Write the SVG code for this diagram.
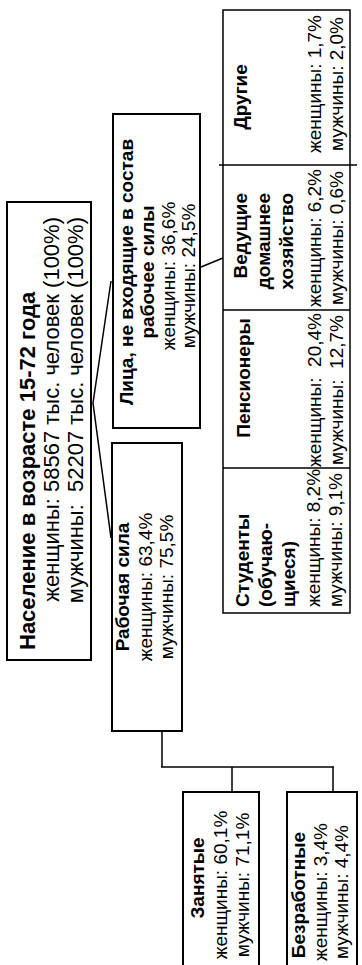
<svg xmlns="http://www.w3.org/2000/svg" width="362" height="965" viewBox="0 0 362 965">
<style>
.box{fill:#fff;stroke:#000;stroke-width:2}
.cell{fill:none;stroke:#000;stroke-width:1.5}
.con{fill:none;stroke:#000;stroke-width:1.5}
text{font-family:"Liberation Sans",Arial,sans-serif;font-size:19px;fill:#000}
.b{font-weight:bold}
.big{font-size:22px}
.s{text-anchor:start}
.m{text-anchor:middle}
.e{text-anchor:end}
</style>
<rect width="362" height="965" fill="#fff"/>
<g id="connectors">
<polyline class="con" points="111,281 93,403 111,538"/>
<line class="con" x1="201" y1="267" x2="223" y2="258"/>
<path class="con" d="M162,731 V767 M161,767 H334 M232,767 V792 M333,767 V792"/>
</g>
<g id="n-population">
<rect class="box" x="7" y="202" width="84" height="458"/>
<text class="b big s" transform="translate(35,650) rotate(-90)">Население в возрасте 15-72 года</text>
<text class="big e" transform="translate(59,217) rotate(-90)">женщины: 58567 тыс. человек (100%)</text>
<text class="big e" xml:space="preserve" transform="translate(83,217) rotate(-90)">мужчины:  52207 тыс. человек (100%)</text>
</g>
<g id="n-labour">
<rect class="box" x="112" y="443" width="70" height="288"/>
<text class="b m" transform="translate(129,587) rotate(-90)">Рабочая сила</text>
<text class="m" transform="translate(152,587) rotate(-90)">женщины: 63,4%</text>
<text class="m" transform="translate(173,587) rotate(-90)">мужчины: 75,5%</text>
</g>
<g id="n-outside">
<rect class="box" x="113" y="114" width="87" height="314"/>
<text class="b m" transform="translate(133,272) rotate(-90)">Лица, не входящие в состав</text>
<text class="b m" transform="translate(154,272) rotate(-90)">рабочее силы</text>
<text class="m" transform="translate(175,276) rotate(-90)">женщины: 36,6%</text>
<text class="m" transform="translate(195,276) rotate(-90)">мужчины: 24,5%</text>
</g>
<g id="n-employed">
<rect class="box" x="183" y="792" width="76" height="190"/>
<text class="b m" transform="translate(204,878) rotate(-90)">Занятые</text>
<text class="m" transform="translate(227,885) rotate(-90)">женщины: 60,1%</text>
<text class="m" transform="translate(249,885) rotate(-90)">мужчины: 71,1%</text>
</g>
<g id="n-unemployed">
<rect class="box" x="287" y="792" width="70" height="190"/>
<text class="b m" transform="translate(305,895) rotate(-90)">Безработные</text>
<text class="m" transform="translate(327,892) rotate(-90)">женщины: 3,4%</text>
<text class="m" transform="translate(348,892) rotate(-90)">мужчины: 4,4%</text>
</g>
<g id="n-table">
<rect class="cell" x="223" y="10" width="127" height="603"/>
<line class="cell" x1="219" y1="165" x2="357" y2="165"/>
<line class="cell" x1="223" y1="310" x2="350" y2="310"/>
<line class="cell" x1="223" y1="468" x2="350" y2="468"/>
</g>
<g id="n-other">
<text class="b m" transform="translate(247,97) rotate(-90)">Другие</text>
<text class="m" transform="translate(321,84) rotate(-90)">женщины: 1,7%</text>
<text class="m" transform="translate(343,84) rotate(-90)">мужчины: 2,0%</text>
</g>
<g id="n-household">
<text class="b e" transform="translate(247,193) rotate(-90)">Ведущие</text>
<text class="b e" transform="translate(270,193) rotate(-90)">домашнее</text>
<text class="b e" transform="translate(293,193) rotate(-90)">хозяйство</text>
<text class="m" transform="translate(321,238) rotate(-90)">женщины: 6,2%</text>
<text class="m" transform="translate(343,238) rotate(-90)">мужчины: 0,6%</text>
</g>
<g id="n-pensioners">
<text class="b m" transform="translate(250,378) rotate(-90)">Пенсионеры</text>
<text class="m" xml:space="preserve" transform="translate(321,390) rotate(-90)">женщины:  20,4%</text>
<text class="m" xml:space="preserve" transform="translate(343,390) rotate(-90)">мужчины:  12,7%</text>
</g>
<g id="n-students">
<text class="b s" transform="translate(249,607) rotate(-90)">Студенты</text>
<text class="b s" transform="translate(272,607) rotate(-90)">(обучаю-</text>
<text class="b s" transform="translate(295,607) rotate(-90)">щиеся)</text>
<text class="s" transform="translate(320,607) rotate(-90)">женщины: 8,2%</text>
<text class="s" transform="translate(342,607) rotate(-90)">мужчины: 9,1%</text>
</g>
</svg>
